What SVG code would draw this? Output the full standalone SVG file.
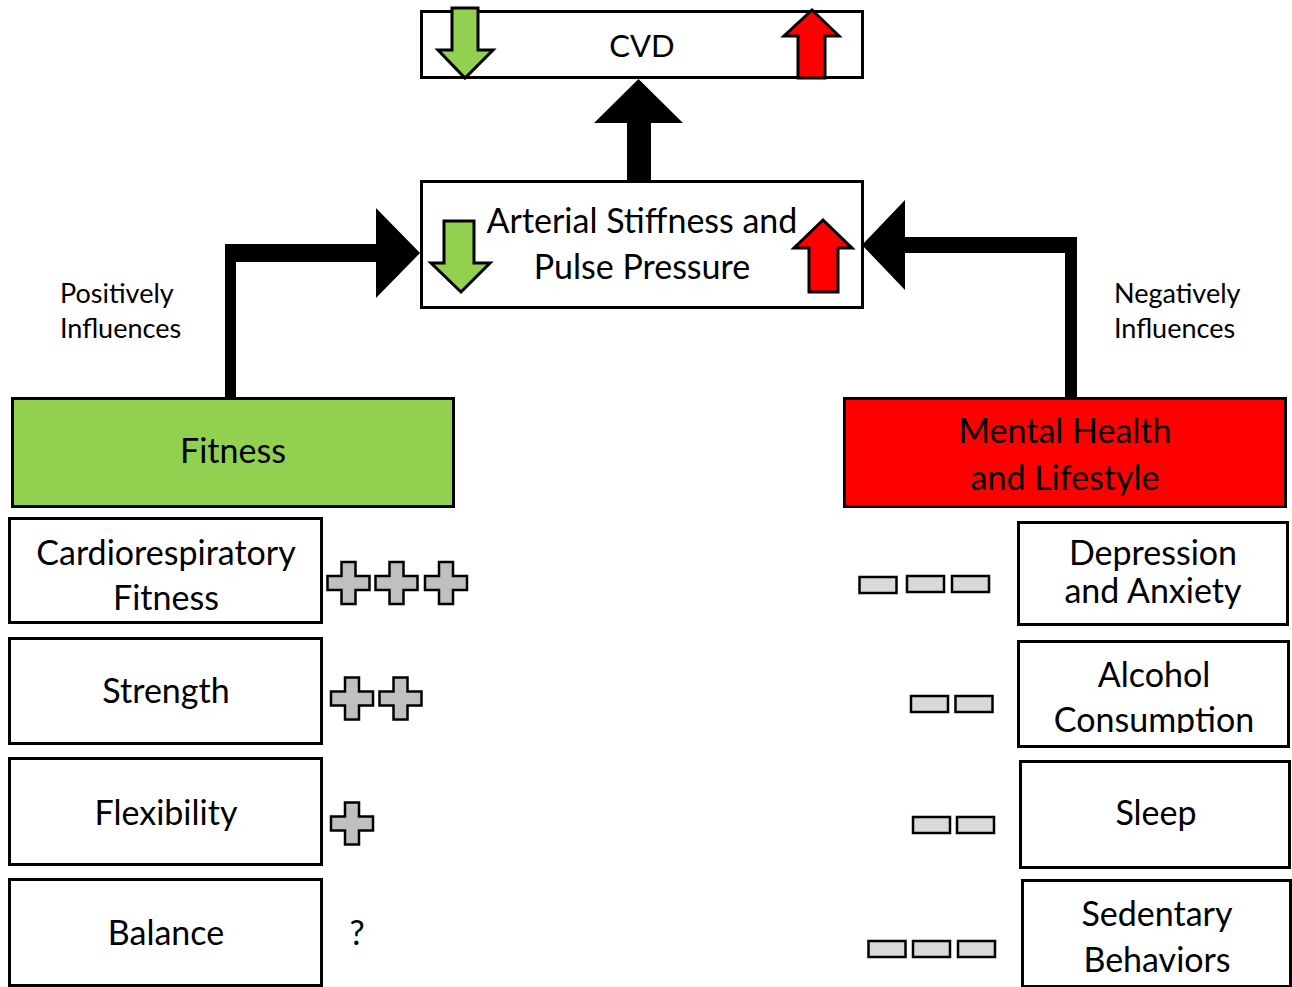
<svg xmlns="http://www.w3.org/2000/svg" xmlns:xlink="http://www.w3.org/1999/xlink" width="1292" height="987" viewBox="0 0 1292 987">
<style>
.box{fill:#fff;stroke:#000;stroke-width:3}
.t{font-family:Lato,"Open Sans","Liberation Sans",sans-serif;fill:#000;text-anchor:middle}
.big{font-size:34px}
.cvd{font-size:31px}
.lab{font-family:Lato,"Open Sans","Liberation Sans",sans-serif;font-size:27px;fill:#000}
.plus{fill:#c0c0c0;stroke:#000;stroke-width:2.5}
.minus{fill:#d9d9d9;stroke:#000;stroke-width:2.5}
.gr{fill:#92d050;stroke:#000;stroke-width:3}
.rd{fill:#ff0000;stroke:#000;stroke-width:3}
.conn{fill:#000}
</style>
<defs>
<path id="plus" d="M-7,-21H7V-7H21V7H7V21H-7V7H-21V-7H-7Z"/>
<rect id="minus" x="-18.5" y="-8" width="37" height="16"/>
<clipPath id="clipAlc"><rect x="1017" y="641" width="273" height="92"/></clipPath>
</defs>

<g id="connectors">
<path class="conn" d="M627,180V123H594L638.5,79L683,123H651V180Z"/>
<path class="conn" d="M225,397V244H376V208L420,253L376,298V262H236V397Z"/>
<path class="conn" d="M1077,397V237H905V200L862,245L905,290V253H1065V397Z"/>
</g>

<g id="cvd">
<rect class="box" x="421.5" y="11.5" width="441" height="66"/>
<text class="t cvd" x="642" y="57">CVD</text>
<path class="gr" d="M452,8H478V50H493L465,78L438,50H452Z"/>
<path class="rd" d="M812,10L839,36H825V78H798V36H784Z"/>
</g>

<g id="arterial">
<rect class="box" x="421.5" y="181.5" width="441" height="126"/>
<text class="t big" x="642" y="233">Arterial Stiffness and</text>
<text class="t big" x="642" y="279">Pulse Pressure</text>
<path class="gr" d="M444,221H474V263H490L461,292L431,263H444Z"/>
<path class="rd" d="M823,220L852,248H838V292H809V248H794Z"/>
</g>

<g id="label-pos">
<text class="lab" x="60" y="303">Positively</text>
<text class="lab" x="60" y="338">Influences</text>
</g>
<g id="label-neg">
<text class="lab" x="1114" y="303">Negatively</text>
<text class="lab" x="1114" y="338">Influences</text>
</g>

<g id="fitness">
<rect class="gr" x="12.5" y="398.5" width="441" height="108"/>
<text class="t big" x="233" y="463">Fitness</text>
</g>

<g id="mental">
<rect class="rd" x="844.5" y="398.5" width="441" height="108"/>
<text class="t big" x="1065" y="443">Mental Health</text>
<text class="t big" x="1065" y="490">and Lifestyle</text>
</g>

<g id="cardio">
<rect class="box" x="9.5" y="518.5" width="312" height="104"/>
<text class="t big" x="166" y="565">Cardiorespiratory</text>
<text class="t big" x="166" y="610">Fitness</text>
</g>
<g id="strength">
<rect class="box" x="9.5" y="638.5" width="312" height="105"/>
<text class="t big" x="166" y="703">Strength</text>
</g>
<g id="flexibility">
<rect class="box" x="9.5" y="758.5" width="312" height="106"/>
<text class="t big" x="166" y="825">Flexibility</text>
</g>
<g id="balance">
<rect class="box" x="9.5" y="879.5" width="312" height="106"/>
<text class="t big" x="166" y="945">Balance</text>
</g>

<g id="depression">
<rect class="box" x="1018.5" y="522.5" width="269" height="102"/>
<text class="t big" x="1153" y="565">Depression</text>
<text class="t big" x="1153" y="603">and Anxiety</text>
</g>
<g id="alcohol">
<rect class="box" x="1018.5" y="641.5" width="270" height="105"/>
<g clip-path="url(#clipAlc)">
<text class="t big" x="1154" y="687">Alcohol</text>
<text class="t big" x="1154" y="732">Consumption</text>
</g>
</g>
<g id="sleep">
<rect class="box" x="1020.5" y="761.5" width="269" height="106"/>
<text class="t big" x="1156" y="825">Sleep</text>
</g>
<g id="sedentary">
<rect class="box" x="1022.5" y="880.5" width="268" height="106"/>
<text class="t big" x="1157" y="926">Sedentary</text>
<text class="t big" x="1157" y="972">Behaviors</text>
</g>

<g id="plus-signs">
<use href="#plus" class="plus" x="348.5" y="583"/>
<use href="#plus" class="plus" x="396.5" y="583"/>
<use href="#plus" class="plus" x="446" y="583"/>
<use href="#plus" class="plus" x="352" y="698.5"/>
<use href="#plus" class="plus" x="400.5" y="698.5"/>
<use href="#plus" class="plus" x="352" y="823.5"/>
<text class="t big" x="357" y="945">?</text>
</g>

<g id="minus-signs">
<use href="#minus" class="minus" x="878" y="585"/>
<use href="#minus" class="minus" x="925.5" y="584"/>
<use href="#minus" class="minus" x="970.5" y="584"/>
<use href="#minus" class="minus" x="929.5" y="704"/>
<use href="#minus" class="minus" x="974" y="704"/>
<use href="#minus" class="minus" x="931.5" y="825"/>
<use href="#minus" class="minus" x="975.5" y="825"/>
<use href="#minus" class="minus" x="887" y="949"/>
<use href="#minus" class="minus" x="931.5" y="949"/>
<use href="#minus" class="minus" x="976.5" y="949"/>
</g>
</svg>
